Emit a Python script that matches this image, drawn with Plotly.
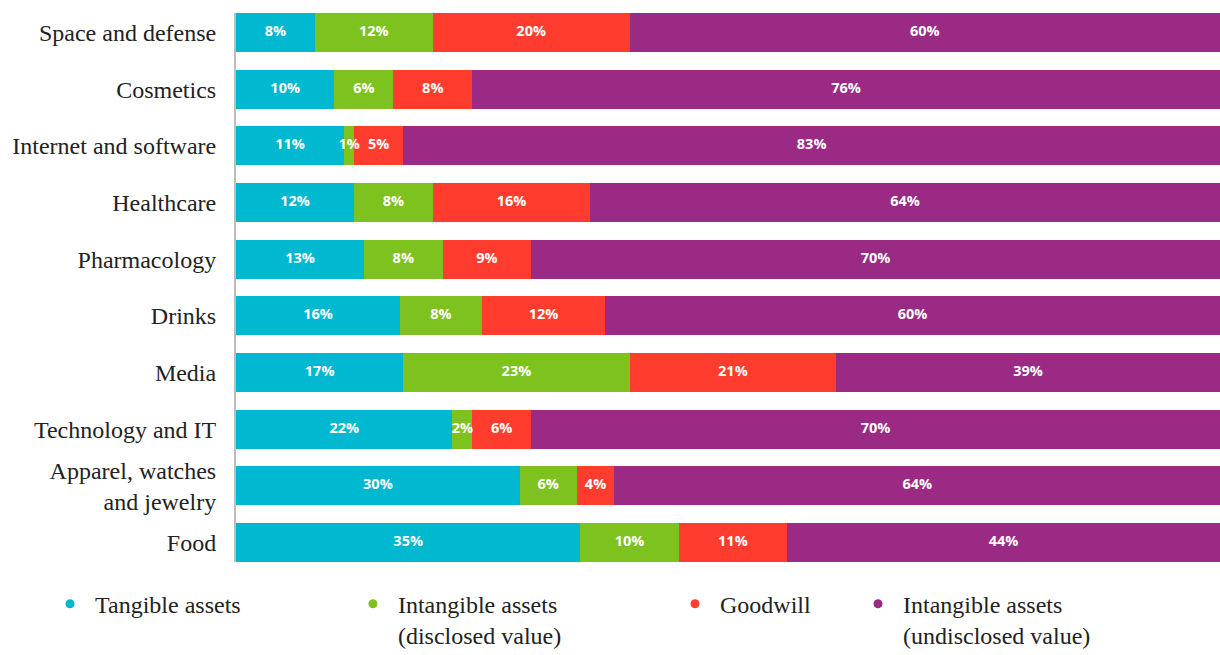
import plotly.graph_objects as go

categories = ["Space and defense", "Cosmetics", "Internet and software", "Healthcare",
              "Pharmacology", "Drinks", "Media", "Technology and IT",
              "Apparel, watches<br>and jewelry", "Food"]
tangible = [8, 10, 11, 12, 13, 16, 17, 22, 30, 35]
intangible_disclosed = [12, 6, 1, 8, 8, 8, 23, 2, 6, 10]
goodwill = [20, 8, 5, 16, 9, 12, 21, 6, 4, 11]
intangible_undisclosed = [60, 76, 83, 64, 70, 60, 39, 70, 64, 44]

series_names = ["Tangible assets", "Intangible assets<br>(disclosed value)",
                "Goodwill", "Intangible assets<br>(undisclosed value)"]
series_values = [tangible, intangible_disclosed, goodwill, intangible_undisclosed]
colors = ["#00B8CF", "#7DC21E", "#FF3C2E", "#9B2A84"]

SERIF = "'Liberation Serif', 'Times New Roman', Times, serif"

fig = go.Figure()
for name, vals, col in zip(series_names, series_values, colors):
    fig.add_trace(go.Bar(
        y=categories, x=vals, orientation="h", name=name,
        marker=dict(color=col, line=dict(width=0)),
        showlegend=False, hoverinfo="skip",
    ))

# segment labels drawn on top (computed from the normalized data)
lab_x, lab_y, lab_t = [], [], []
for ci, cat in enumerate(categories):
    row = [s[ci] for s in series_values]
    total = sum(row)
    cum = 0.0
    for v in row:
        lab_x.append((cum + v / 2) / total * 100)
        lab_y.append(cat)
        lab_t.append(f"{v}%")
        cum += v
fig.add_trace(go.Scatter(
    x=lab_x, y=lab_y, text=lab_t, mode="text", textposition="middle center",
    textfont=dict(family="Open Sans", size=14.5, color="white", weight="bold"),
    showlegend=False, hoverinfo="skip",
))

legend_x = [0.0369, 0.2852, 0.5492, 0.6992]
for i, (name, col) in enumerate(zip(series_names, colors)):
    lg = "legend" if i == 0 else f"legend{i+1}"
    fig.add_trace(go.Scatter(
        x=[None], y=[None], mode="markers", name=name,
        marker=dict(color=col, size=9, symbol="circle"),
        legend=lg, showlegend=True,
    ))

legend_common = dict(
    orientation="h", yanchor="top", xanchor="left", y=0.112,
    xref="container", yref="container",
    font=dict(family=SERIF, size=24, color="#222"),
    bgcolor="rgba(0,0,0,0)", valign="top", itemwidth=40,
)

fig.update_layout(
    barmode="stack", barnorm="percent", bargap=0.31,
    width=1220, height=655,
    margin=dict(l=236, r=0, t=13, b=93, autoexpand=False),
    paper_bgcolor="white", plot_bgcolor="white",
    xaxis=dict(range=[0, 100], visible=False, fixedrange=True),
    yaxis=dict(
        type="category", range=[9.345, -0.345],
        showline=True, linecolor="#bdbdbd", linewidth=2,
        showgrid=False, zeroline=False, ticks="",
        ticklabelstandoff=13,
        tickfont=dict(family=SERIF, size=24, color="#222"),
    ),
    legend={**legend_common, "x": legend_x[0]},
    legend2={**legend_common, "x": legend_x[1]},
    legend3={**legend_common, "x": legend_x[2]},
    legend4={**legend_common, "x": legend_x[3]},
)

fig.write_html("out.html")
